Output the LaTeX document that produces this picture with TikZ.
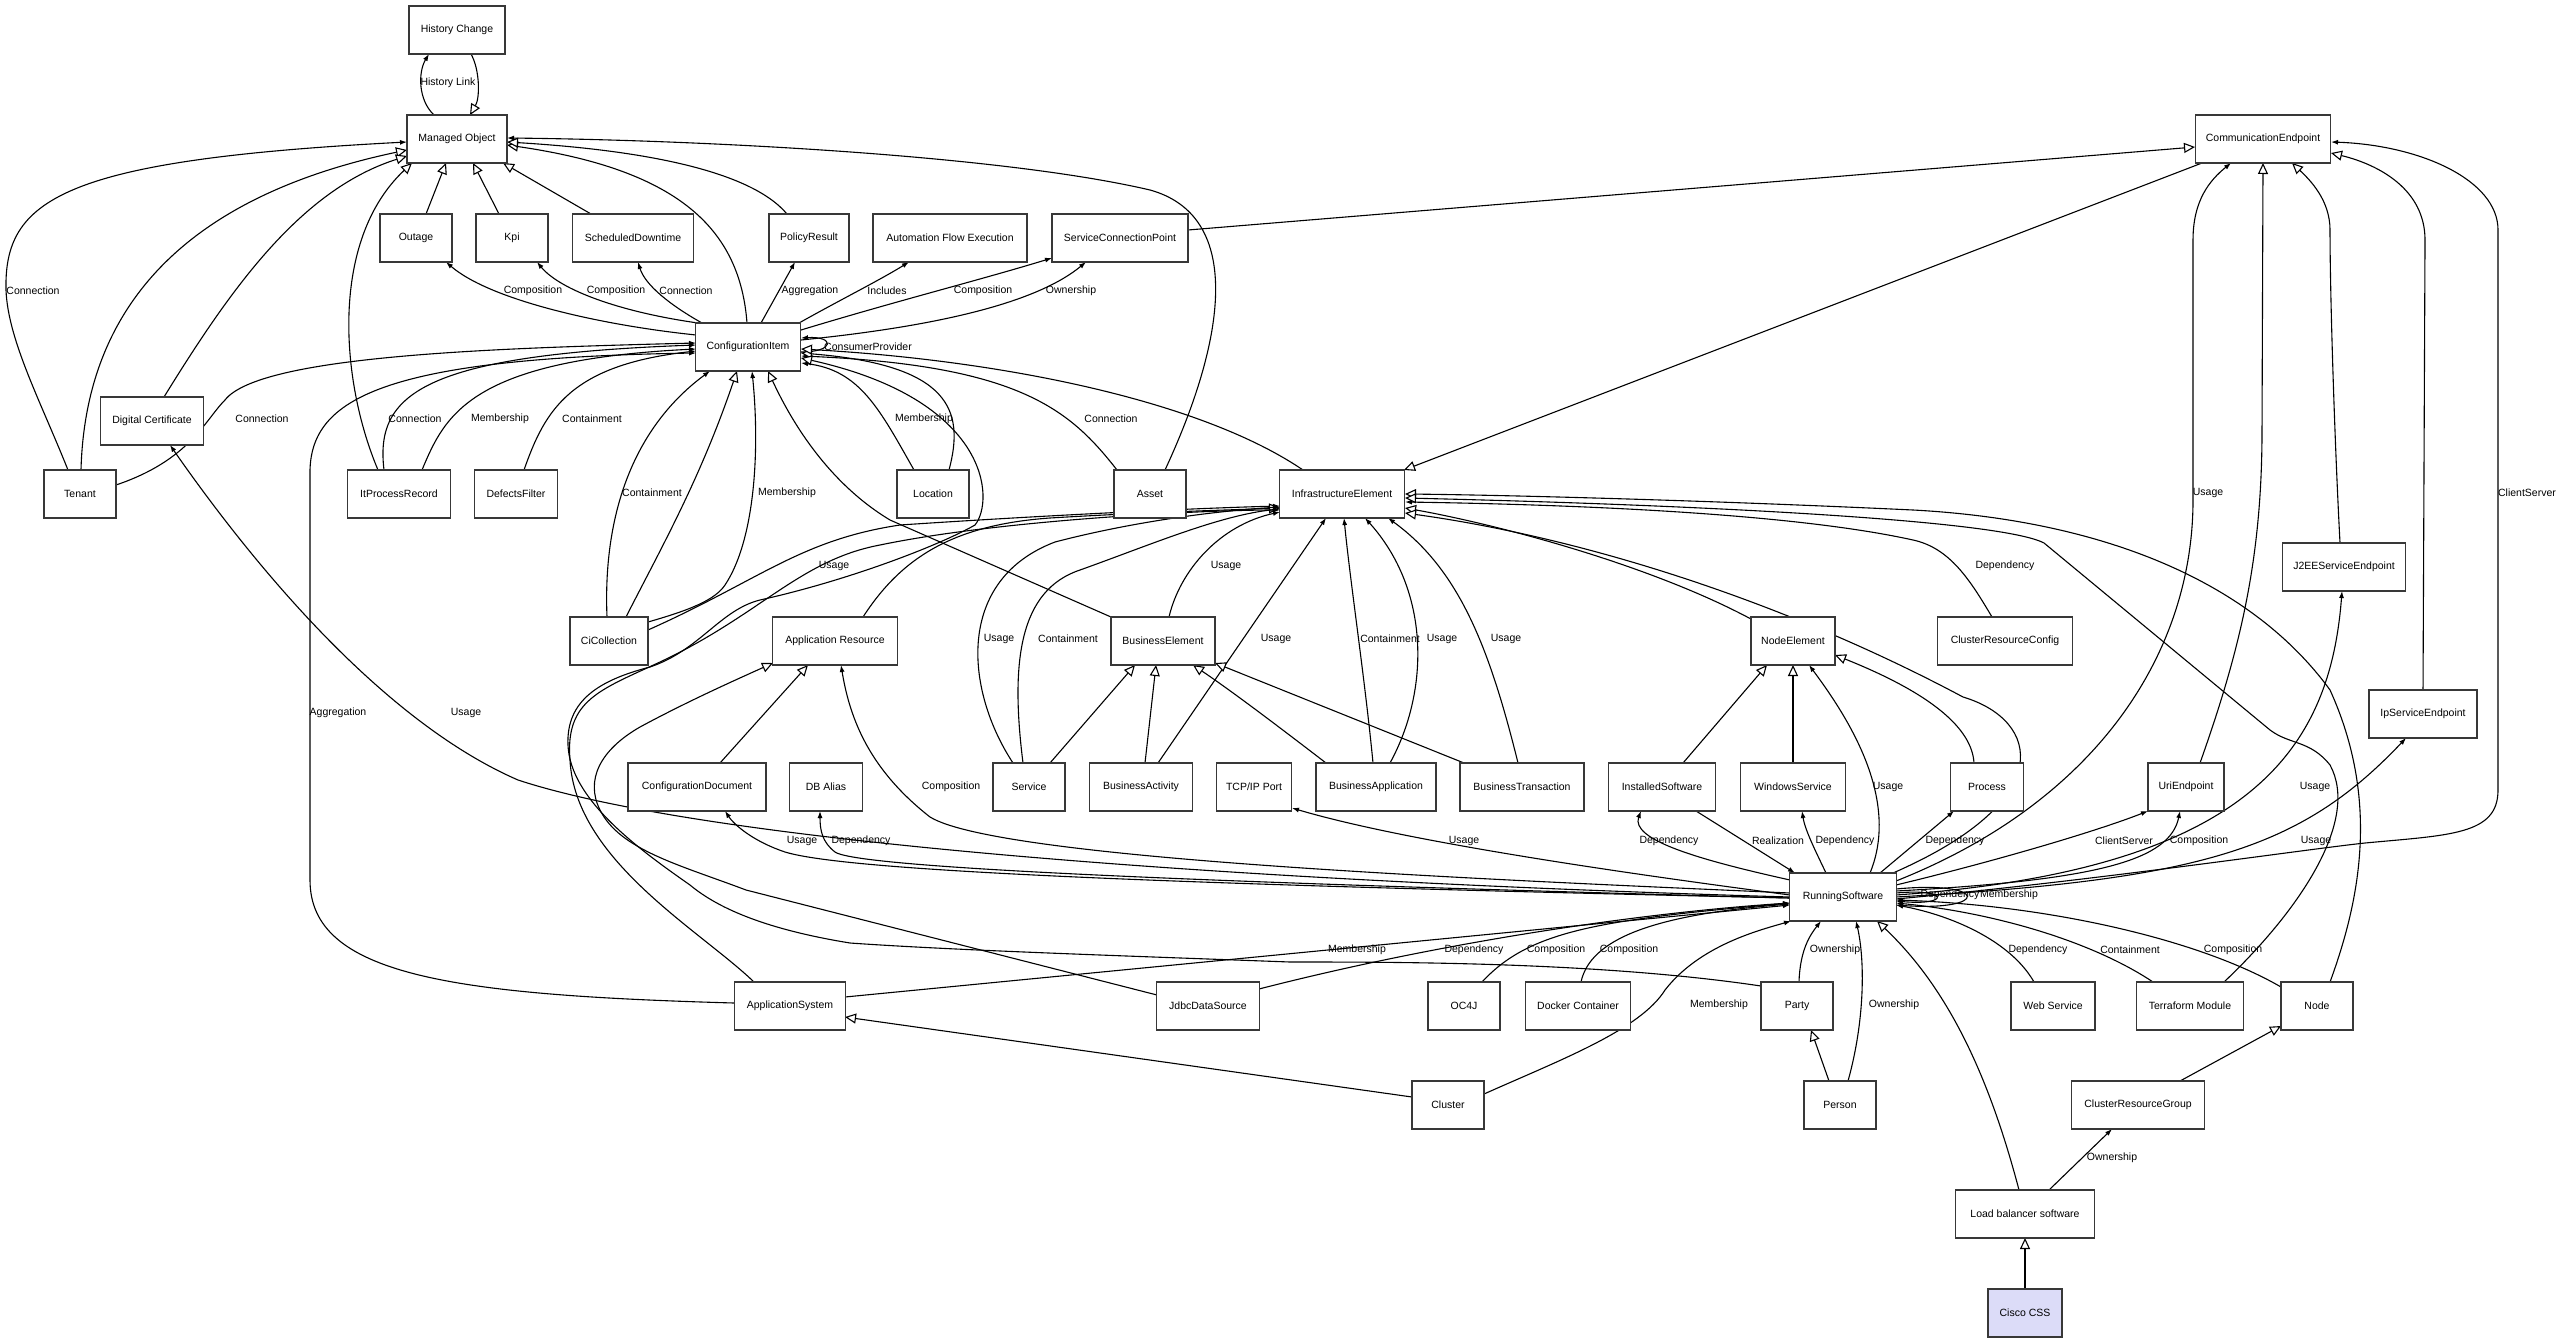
\documentclass[tikz,border=0pt]{standalone}
\usepackage{fontspec}
\setmainfont{Liberation Sans}
\usetikzlibrary{arrows.meta,calc}
\pgfdeclarelayer{edges}
\pgfsetlayers{edges,main}
\newcommand{\fsz}{\fontsize{10.5pt}{12pt}\selectfont}
\definecolor{lav}{RGB}{220,220,248}
\tikzset{
 box/.style={draw=black!78,line width=1.4pt,fill=white,minimum height=48pt,inner sep=0pt,font=\fsz},
 lbl/.style={inner sep=0pt,font=\fsz},
 assoc/.style={line width=1.1pt,-{Latex[length=7pt,width=5pt]}},
 gen/.style={line width=1.1pt,-{Triangle[length=11pt,width=10pt,fill=white]}},
}
\begin{document}
\begin{tikzpicture}[x=1pt,y=-1pt]
\useasboundingbox (0,0) rectangle (2563,1343);
% nodes
\node[box,minimum width=96pt] (hc) at (457,30) {History Change};
\node[box,minimum width=100pt] (mo) at (457,139) {Managed Object};
\node[box,minimum width=72pt] (outage) at (416,238) {Outage};
\node[box,minimum width=72pt] (kpi) at (512,238) {Kpi};
\node[box,minimum width=121pt] (sd) at (633,238) {ScheduledDowntime};
\node[box,minimum width=80pt] (pr) at (809,238) {PolicyResult};
\node[box,minimum width=154pt] (afe) at (950,238) {Automation Flow Execution};
\node[box,minimum width=136pt] (scp) at (1120,238) {ServiceConnectionPoint};
\node[box,minimum width=135pt] (ce) at (2263,139) {CommunicationEndpoint};
\node[box,minimum width=105pt] (ci) at (748,347) {ConfigurationItem};
\node[box,minimum width=103pt] (dc) at (152,421) {Digital Certificate};
\node[box,minimum width=72pt] (tenant) at (80,494) {Tenant};
\node[box,minimum width=103pt] (ipr) at (399,494) {ItProcessRecord};
\node[box,minimum width=83pt] (df) at (516,494) {DefectsFilter};
\node[box,minimum width=72pt] (loc) at (933,494) {Location};
\node[box,minimum width=72pt] (asset) at (1150,494) {Asset};
\node[box,minimum width=125pt] (ie) at (1342,494) {InfrastructureElement};
\node[box,minimum width=78pt] (cic) at (609,641) {CiCollection};
\node[box,minimum width=125pt] (ar) at (835,641) {Application Resource};
\node[box,minimum width=104pt] (be) at (1163,641) {BusinessElement};
\node[box,minimum width=84pt] (ne) at (1793,641) {NodeElement};
\node[box,minimum width=135pt] (crc) at (2005,641) {ClusterResourceConfig};
\node[box,minimum width=123pt] (j2ee) at (2344,567) {J2EEServiceEndpoint};
\node[box,minimum width=108pt] (ipse) at (2423,714) {IpServiceEndpoint};
\node[box,minimum width=138pt] (cd) at (697,787) {ConfigurationDocument};
\node[box,minimum width=73pt] (dba) at (826,787) {DB Alias};
\node[box,minimum width=72pt] (svc) at (1029,787) {Service};
\node[box,minimum width=103pt] (bact) at (1141,787) {BusinessActivity};
\node[box,minimum width=75pt] (tcp) at (1254,787) {TCP/IP Port};
\node[box,minimum width=120pt] (bapp) at (1376,787) {BusinessApplication};
\node[box,minimum width=124pt] (btx) at (1522,787) {BusinessTransaction};
\node[box,minimum width=107pt] (is) at (1662,787) {InstalledSoftware};
\node[box,minimum width=105pt] (ws) at (1793,787) {WindowsService};
\node[box,minimum width=73pt] (proc) at (1987,787) {Process};
\node[box,minimum width=76pt] (ue) at (2186,787) {UriEndpoint};
\node[box,minimum width=107pt] (rs) at (1843,897) {RunningSoftware};
\node[box,minimum width=111pt] (as) at (790,1006) {ApplicationSystem};
\node[box,minimum width=103pt] (jds) at (1208,1006) {JdbcDataSource};
\node[box,minimum width=72pt] (oc4j) at (1464,1006) {OC4J};
\node[box,minimum width=105pt] (docker) at (1578,1006) {Docker Container};
\node[box,minimum width=72pt] (party) at (1797,1006) {Party};
\node[box,minimum width=84pt] (websvc) at (2053,1006) {Web Service};
\node[box,minimum width=107pt] (tm) at (2190,1006) {Terraform Module};
\node[box,minimum width=72pt] (node) at (2317,1006) {Node};
\node[box,minimum width=72pt] (cluster) at (1448,1105) {Cluster};
\node[box,minimum width=72pt] (person) at (1840,1105) {Person};
\node[box,minimum width=133pt] (crg) at (2138,1105) {ClusterResourceGroup};
\node[box,minimum width=139pt] (lbs) at (2025,1214) {Load balancer software};
\node[box,minimum width=74pt,fill=lav] (cisco) at (2025,1313) {Cisco CSS};
% labels
\node[lbl] (l1) at (448,83) {History Link};
\node[lbl] (l2) at (33,291) {Connection};
\node[lbl] (l3) at (533,291) {Composition};
\node[lbl] (l4) at (616,291) {Composition};
\node[lbl] (l5) at (686,291) {Connection};
\node[lbl] (l6) at (810,291) {Aggregation};
\node[lbl] (l7) at (887,291) {Includes};
\node[lbl] (l8) at (983,291) {Composition};
\node[lbl] (l9) at (1071,291) {Ownership};
\node[lbl] (l10) at (868,347) {ConsumerProvider};
\node[lbl] (l11) at (262,419) {Connection};
\node[lbl] (l12) at (415,419) {Connection};
\node[lbl] (l13) at (500,419) {Membership};
\node[lbl] (l14) at (592,419) {Containment};
\node[lbl] (l15) at (924,419) {Membership};
\node[lbl] (l16) at (1111,419) {Connection};
\node[lbl] (l17) at (652,493) {Containment};
\node[lbl] (l18) at (787,493) {Membership};
\node[lbl] (l19) at (834,566) {Usage};
\node[lbl] (l20) at (1226,566) {Usage};
\node[lbl] (l21) at (999,639) {Usage};
\node[lbl] (l22) at (1068,639) {Containment};
\node[lbl] (l23) at (1276,639) {Usage};
\node[lbl] (l24) at (1390,639) {Containment};
\node[lbl] (l25) at (1442,639) {Usage};
\node[lbl] (l26) at (1506,639) {Usage};
\node[lbl] (l27) at (2005,566) {Dependency};
\node[lbl] (l28) at (2208,493) {Usage};
\node[lbl] (l29) at (2527,493) {ClientServer};
\node[lbl] (l30) at (338,713) {Aggregation};
\node[lbl] (l31) at (466,713) {Usage};
\node[lbl] (l32) at (951,787) {Composition};
\node[lbl] (l33) at (802,841) {Usage};
\node[lbl] (l34) at (861,841) {Dependency};
\node[lbl] (l35) at (1464,841) {Usage};
\node[lbl] (l36) at (1669,841) {Dependency};
\node[lbl] (l37) at (1778,841) {Realization};
\node[lbl] (l38) at (1845,841) {Dependency};
\node[lbl] (l39) at (1888,787) {Usage};
\node[lbl] (l40) at (1955,841) {Dependency};
\node[lbl] (l41) at (2124,841) {ClientServer};
\node[lbl] (l42) at (2199,841) {Composition};
\node[lbl] (l43) at (2315,787) {Usage};
\node[lbl] (l44) at (2316,841) {Usage};
\node[lbl] (l45) at (1950,895) {Dependency};
\node[lbl] (l46) at (2009,895) {Membership};
\node[lbl] (l47) at (1357,950) {Membership};
\node[lbl] (l48) at (1474,950) {Dependency};
\node[lbl] (l49) at (1556,950) {Composition};
\node[lbl] (l50) at (1629,950) {Composition};
\node[lbl] (l51) at (1719,1005) {Membership};
\node[lbl] (l52) at (1835,950) {Ownership};
\node[lbl] (l53) at (1894,1005) {Ownership};
\node[lbl] (l54) at (2038,950) {Dependency};
\node[lbl] (l55) at (2130,950) {Containment};
\node[lbl] (l56) at (2233,950) {Composition};
\node[lbl] (l57) at (2112,1158) {Ownership};
\begin{pgfonlayer}{edges}
% top
\draw[assoc] ($(mo)+(-23,-24)$) .. controls (418,100) and (418,72) .. ($(hc)+(-28,24)$);
\draw[gen] ($(hc)+(14,24)$) .. controls (480,70) and (480,98) .. ($(mo)+(13,-24)$);
\draw[gen] ($(outage)+(10,-24)$) -- ($(mo)+(-11,24)$);
\draw[gen] ($(kpi)+(-13,-24)$) -- ($(mo)+(16,24)$);
\draw[gen] ($(sd)+(-42,-24)$) -- ($(mo)+(46,24)$);
\draw[assoc] ($(tenant)+(-12,-24)$) .. controls (40,400) and (8,340) .. (6,290) .. controls (4,200) and (60,160) .. ($(mo)+(-50,3)$);
\draw[gen] ($(tenant)+(1,-24)$) .. controls (85,320) and (170,200) .. ($(mo)+(-50,11)$);
\draw[gen] ($(dc)+(12,-24)$) .. controls (230,290) and (300,190) .. ($(mo)+(-50,17)$);
\draw[gen] ($(ipr)+(-21,-24)$) .. controls (340,380) and (330,240) .. ($(mo)+(-45,24)$);
\draw[gen] ($(ci)+(-1,-24)$) .. controls (740,230) and (680,170) .. ($(mo)+(50,6)$);
\draw[gen] ($(pr)+(-22,-24)$) .. controls (750,170) and (640,150) .. ($(mo)+(50,3)$);
\draw[assoc] ($(asset)+(15,-24)$) .. controls (1230,330) and (1240,215) .. (1150,190) .. controls (1000,155) and (700,140) .. ($(mo)+(50,-1)$);
% CI outgoing top
\draw[assoc] ($(ci)+(-52,-12)$) .. controls (600,325) and (490,300) .. ($(outage)+(30,24)$);
\draw[assoc] ($(ci)+(-50,-24)$) .. controls (620,312) and (560,290) .. ($(kpi)+(25,24)$);
\draw[assoc] ($(ci)+(-46,-24)$) .. controls (670,305) and (645,285) .. ($(sd)+(5,24)$);
\draw[assoc] ($(ci)+(13,-24)$) -- ($(pr)+(-14,24)$);
\draw[assoc] ($(ci)+(51,-24)$) .. controls (840,300) and (880,280) .. ($(afe)+(-41,24)$);
\draw[assoc] ($(ci)+(53,-17)$) .. controls (900,300) and (980,280) .. ($(scp)+(-68,20)$);
\draw[assoc] ($(ci)+(53,-7)$) .. controls (950,325) and (1040,300) .. ($(scp)+(-34,24)$);
\draw[assoc] ($(ci)+(53,5)$) .. controls (835,352) and (835,336) .. ($(ci)+(53,-9)$);
% into CI left
\draw[assoc] ($(ipr)+(-15,-24)$) .. controls (375,395) and (420,355) .. ($(ci)+(-52,-2)$);
\draw[assoc] ($(ipr)+(23,-24)$) .. controls (445,415) and (470,360) .. ($(ci)+(-52,2)$);
\draw[assoc] ($(tenant)+(36,-9)$) .. controls (190,460) and (205,420) .. (225,400) .. controls (260,355) and (500,348) .. ($(ci)+(-52,-4)$);
\draw[assoc] ($(df)+(8,-24)$) .. controls (545,410) and (570,365) .. ($(ci)+(-52,4)$);
\draw[assoc] ($(as)+(-56,-3)$) .. controls (450,995) and (310,975) .. (310,880) -- (310,470) .. controls (312,400) and (380,358) .. ($(ci)+(-52,6)$);
% into CI bottom
\draw[assoc] ($(cic)+(-2,-24)$) .. controls (603,520) and (630,430) .. ($(ci)+(-38,24)$);
\draw[gen] ($(cic)+(17,-24)$) .. controls (660,550) and (700,480) .. ($(ci)+(-11,24)$);
\draw[assoc] ($(cic)+(39,-19)$) .. controls (690,610) and (715,600) .. (725,585) .. controls (755,540) and (760,450) .. ($(ci)+(4,24)$);
\draw[gen] ($(be)+(-52,-24)$) -- (890,520) .. controls (840,490) and (800,440) .. ($(ci)+(20,24)$);
% into CI right
\draw[assoc] ($(asset)+(-33,-24)$) .. controls (1070,410) and (1020,365) .. ($(ci)+(53,9)$);
\draw[assoc] ($(loc)+(-19,-24)$) .. controls (880,410) and (860,370) .. ($(ci)+(53,16)$);
\draw[gen] ($(loc)+(16,-24)$) .. controls (965,410) and (950,365) .. ($(ci)+(53,6)$);
\draw[gen] ($(ie)+(-39,-24)$) .. controls (1200,400) and (1000,360) .. ($(ci)+(53,2)$);
\draw[gen] ($(party)+(-36,-20)$) .. controls (1600,962) and (1400,962) .. (1290,962) .. controls (1100,955) and (950,950) .. (850,943) .. controls (770,930) and (720,910) .. (690,885) .. controls (640,850) and (570,800) .. (568,745) .. controls (566,700) and (600,680) .. (650,667) .. controls (700,650) and (720,610) .. (760,600) .. controls (850,580) and (940,545) .. (975,525) .. controls (995,500) and (990,400) .. ($(ci)+(53,11)$);
% SCP, CE
\draw[gen] ($(scp)+(68,-8)$) -- ($(ce)+(-68,8)$);
\draw[gen] ($(ce)+(-61,24)$) -- ($(ie)+(62,-24)$);
\draw[gen] ($(ue)+(14,-24)$) .. controls (2240,650) and (2262,560) .. (2262,430) -- ($(ce)+(0,24)$);
\draw[gen] ($(j2ee)+(-4,-24)$) .. controls (2335,450) and (2330,300) .. (2330,230) .. controls (2330,200) and (2310,180) .. ($(ce)+(29,24)$);
\draw[gen] ($(ipse)+(0,-24)$) -- (2425,240) .. controls (2425,190) and (2380,165) .. ($(ce)+(68,14)$);
\draw[assoc] ($(rs)+(53,-16)$) .. controls (2100,800) and (2193,650) .. (2193,500) -- (2193,240) .. controls (2193,200) and (2210,180) .. ($(ce)+(-32,24)$);
\draw[assoc] ($(rs)+(53,2)$) .. controls (2100,880) and (2300,850) .. (2365,843) .. controls (2450,835) and (2498,835) .. (2498,790) -- (2498,230) .. controls (2498,180) and (2420,145) .. ($(ce)+(68,3)$);
% into IE left
\draw[assoc] ($(cic)+(39,-11)$) .. controls (760,580) and (800,540) .. (900,525) .. controls (1050,515) and (1200,508) .. ($(ie)+(-62,12)$);
\draw[gen] ($(ar)+(28,-24)$) .. controls (900,560) and (950,525) .. (1050,518) .. controls (1150,512) and (1230,510) .. ($(ie)+(-62,14)$);
\draw[assoc] ($(be)+(6,-24)$) .. controls (1180,570) and (1220,525) .. ($(ie)+(-62,18)$);
\draw[assoc] ($(svc)+(-16,-24)$) .. controls (965,690) and (955,580) .. (1055,542) .. controls (1120,525) and (1200,512) .. ($(ie)+(-62,13)$);
\draw[assoc] ($(svc)+(-6,-24)$) .. controls (1010,660) and (1020,590) .. (1080,570) .. controls (1150,545) and (1220,515) .. ($(ie)+(-62,15)$);
\draw[assoc] ($(as)+(-36,-24)$) .. controls (700,930) and (575,860) .. (570,760) .. controls (565,700) and (600,690) .. (660,662) .. controls (760,615) and (800,560) .. (880,545) .. controls (1000,520) and (1200,510) .. ($(ie)+(-62,16)$);
\draw[gen] ($(jds)+(-51,-11)$) -- (746,890) .. controls (680,865) and (620,850) .. (600,810) .. controls (585,780) and (600,750) .. (640,727) .. controls (690,700) and (740,678) .. ($(ar)+(-62,22)$);
% into IE bottom
\draw[assoc] ($(bact)+(17,-24)$) -- ($(ie)+(-16,24)$);
\draw[assoc] ($(bapp)+(-3,-24)$) .. controls (1365,680) and (1350,580) .. ($(ie)+(2,24)$);
\draw[assoc] ($(bapp)+(14,-24)$) .. controls (1430,690) and (1430,590) .. ($(ie)+(23,24)$);
\draw[assoc] ($(btx)+(-4,-24)$) .. controls (1490,650) and (1460,570) .. ($(ie)+(46,24)$);
% into IE right
\draw[gen] ($(ne)+(-42,-22)$) .. controls (1650,565) and (1500,525) .. ($(ie)+(63,14)$);
\draw[gen] ($(rs)+(50,-24)$) .. controls (2060,800) and (2040,720) .. (1963,697) .. controls (1800,610) and (1600,540) .. ($(ie)+(63,19)$);
\draw[assoc] ($(crc)+(-13,-24)$) .. controls (1970,580) and (1950,548) .. (1913,540) .. controls (1800,515) and (1600,505) .. ($(ie)+(63,8)$);
\draw[gen] ($(node)+(13,-24)$) .. controls (2360,900) and (2380,800) .. (2330,690) .. controls (2250,580) and (2100,520) .. (1913,510) .. controls (1700,500) and (1500,495) .. ($(ie)+(63,0)$);
\draw[gen] ($(tm)+(34,-24)$) .. controls (2300,910) and (2360,820) .. (2330,765) .. controls (2310,740) and (2290,745) .. (2270,730) -- (2044,543) .. controls (2000,520) and (1700,505) .. ($(ie)+(63,4)$);
% generalizations lower
\draw[gen] ($(svc)+(21,-24)$) -- ($(be)+(-28,24)$);
\draw[gen] ($(bact)+(4,-24)$) -- ($(be)+(-7,24)$);
\draw[gen] ($(bapp)+(-50,-24)$) .. controls (1270,720) and (1230,690) .. ($(be)+(30,24)$);
\draw[gen] ($(btx)+(-58,-24)$) -- ($(be)+(52,22)$);
\draw[gen] ($(cd)+(23,-24)$) -- ($(ar)+(-27,24)$);
\draw[gen] ($(is)+(21,-24)$) -- ($(ne)+(-26,24)$);
\draw[gen] ($(ws)+(0,-24)$) -- ($(ne)+(0,24)$);
\draw[gen] ($(proc)+(-13,-24)$) .. controls (1972,730) and (1935,695) .. ($(ne)+(42,14)$);
% RS outgoing up/right
\draw[assoc] ($(rs)+(53,-12)$) .. controls (2000,860) and (2100,830) .. ($(ue)+(-38,24)$);
\draw[assoc] ($(rs)+(53,-6)$) .. controls (2100,880) and (2170,860) .. ($(ue)+(-6,24)$);
\draw[assoc] ($(rs)+(53,-2)$) .. controls (2250,870) and (2330,750) .. ($(j2ee)+(-2,24)$);
\draw[assoc] ($(rs)+(53,0)$) .. controls (2200,880) and (2300,850) .. ($(ipse)+(-17,24)$);
\draw[assoc] ($(rs)+(37,-24)$) -- ($(proc)+(-33,24)$);
\draw[assoc] ($(rs)+(27,-24)$) .. controls (1900,800) and (1850,720) .. ($(ne)+(16,24)$);
\draw[assoc] ($(rs)+(-17,-24)$) .. controls (1815,850) and (1805,830) .. ($(ws)+(9,24)$);
\draw[assoc] ($(is)+(34,24)$) -- ($(rs)+(-48,-24)$);
\draw[assoc] ($(rs)+(-53,-17)$) .. controls (1700,860) and (1630,840) .. ($(is)+(-21,24)$);
\draw[assoc] ($(rs)+(53,-8)$) .. controls (1990,880) and (1990,912) .. ($(rs)+(53,8)$);
\draw[assoc] ($(rs)+(53,-4)$) .. controls (1950,888) and (1950,906) .. ($(rs)+(53,4)$);
% RS outgoing left
\draw[assoc] ($(rs)+(-53,-2)$) .. controls (1600,870) and (1400,840) .. ($(tcp)+(38,21)$);
\draw[assoc] ($(rs)+(-53,-4)$) .. controls (1500,880) and (1000,860) .. (930,817) .. controls (870,770) and (850,720) .. ($(ar)+(6,24)$);
\draw[assoc] ($(rs)+(-53,1)$) .. controls (1300,885) and (860,870) .. (835,852) .. controls (822,842) and (820,830) .. ($(dba)+(-6,24)$);
\draw[assoc] ($(rs)+(-53,1)$) .. controls (1200,885) and (850,872) .. (785,852) .. controls (755,842) and (735,826) .. ($(cd)+(28,24)$);
\draw[assoc] ($(rs)+(-53,0)$) .. controls (1200,880) and (700,840) .. (518,780) .. controls (380,720) and (250,560) .. ($(dc)+(18,24)$);
% into RS from below
\draw[assoc] ($(as)+(55,-9)$) -- ($(rs)+(-53,8)$);
\draw[assoc] ($(jds)+(51,-17)$) .. controls (1450,940) and (1650,912) .. ($(rs)+(-53,6)$);
\draw[assoc] ($(oc4j)+(18,-24)$) .. controls (1530,930) and (1600,920) .. ($(rs)+(-53,6)$);
\draw[assoc] ($(docker)+(3,-24)$) .. controls (1590,940) and (1650,915) .. ($(rs)+(-53,7)$);
\draw[assoc] ($(cluster)+(36,-11)$) .. controls (1560,1060) and (1640,1030) .. (1665,990) .. controls (1700,945) and (1760,930) .. ($(rs)+(-52,24)$);
\draw[assoc] ($(party)+(2,-24)$) .. controls (1800,950) and (1810,935) .. ($(rs)+(-22,24)$);
\draw[assoc] ($(person)+(8,-24)$) .. controls (1865,1020) and (1865,960) .. ($(rs)+(13,24)$);
\draw[gen] ($(person)+(-11,-24)$) -- ($(party)+(14,24)$);
\draw[gen] ($(lbs)+(-6,-24)$) .. controls (1990,1080) and (1950,990) .. ($(rs)+(34,24)$);
\draw[assoc] ($(websvc)+(-19,-24)$) .. controls (2010,940) and (1950,915) .. ($(rs)+(53,8)$);
\draw[assoc] ($(tm)+(-37,-24)$) .. controls (2090,940) and (1990,912) .. ($(rs)+(53,6)$);
\draw[assoc] ($(node)+(-36,-19)$) .. controls (2200,940) and (2050,905) .. ($(rs)+(53,3)$);
\draw[gen] ($(crg)+(42,-24)$) -- ($(node)+(-36,20)$);
\draw[assoc] ($(lbs)+(24,-24)$) -- ($(crg)+(-26,24)$);
\draw[gen] ($(cisco)+(0,-24)$) -- ($(lbs)+(0,24)$);
\draw[gen] ($(cluster)+(-36,-8)$) -- ($(as)+(55,11)$);
\end{pgfonlayer}
\end{tikzpicture}
\end{document}
